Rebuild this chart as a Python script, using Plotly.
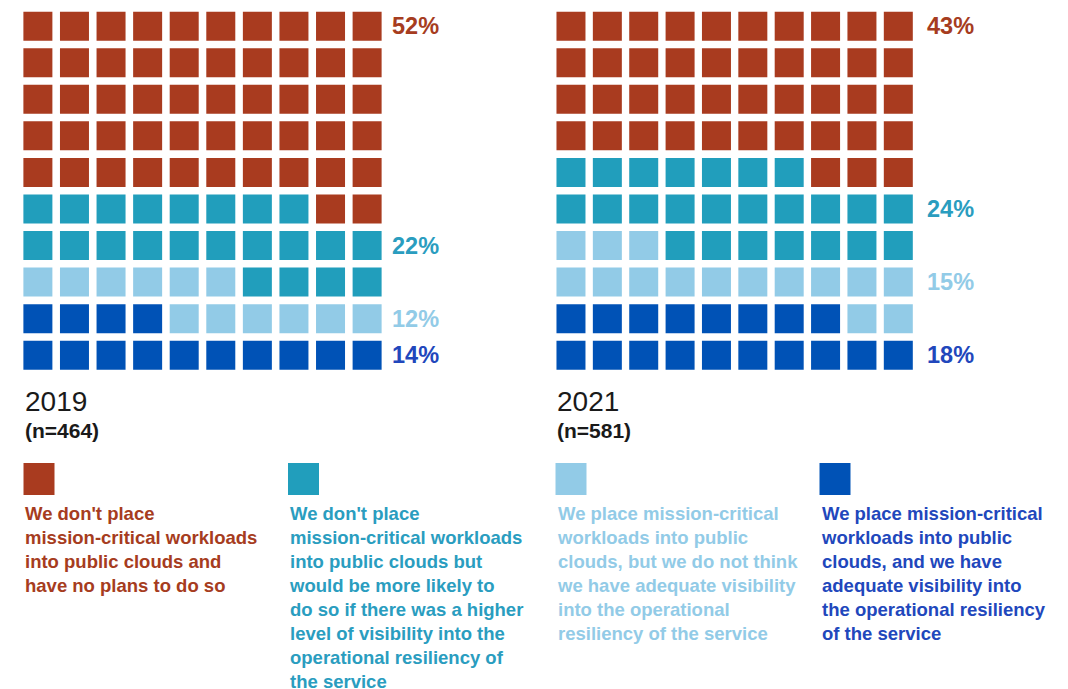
import plotly.graph_objects as go

# ---------------- data ----------------
categories = [
    "We don't place<br>mission-critical workloads<br>into public clouds and<br>have no plans to do so",
    "We don't place<br>mission-critical workloads<br>into public clouds but<br>would be more likely to<br>do so if there was a higher<br>level of visibility into the<br>operational resiliency of<br>the service",
    "We place mission-critical<br>workloads into public<br>clouds, but we do not think<br>we have adequate visibility<br>into the operational<br>resiliency of the service",
    "We place mission-critical<br>workloads into public<br>clouds, and we have<br>adequate visibility into<br>the operational resiliency<br>of the service",
]
years = ["2019", "2021"]
sample_sizes = [464, 581]
pct_2019 = [52, 22, 12, 14]
pct_2021 = [43, 24, 15, 18]

# ---------------- style ----------------
cell_colors = ["#A93B1F", "#219EBC", "#92CBE7", "#0052B6"]
text_colors = ["#A63C20", "#2A9DBF", "#92CBE7", "#2147BC"]
label_rows = {"2019": [0, 6, 8, 9], "2021": [0, 5, 7, 9]}
FONT = "Liberation Sans, Arial, sans-serif"
W, H = 1068, 689

fig = go.Figure()

panel_x_domains = [[19.6 / W, 385.4 / W], [552.8 / W, 916.5 / W]]
y_domain = [1 - 373.5 / H, 1 - 7.9 / H]

for p, (year, n, pcts) in enumerate(zip(years, sample_sizes, [pct_2019, pct_2021])):
    xa = "x" if p == 0 else "x2"
    ya = "y" if p == 0 else "y2"
    # fill the 10x10 grid from bottom-left, last category first
    k = 0
    for ci in reversed(range(len(pcts))):
        xs, ys = [], []
        for _ in range(pcts[ci]):
            xs.append(k % 10)
            ys.append(9 - k // 10)
            k += 1
        fig.add_trace(go.Scatter(
            x=xs, y=ys, mode="markers", xaxis=xa, yaxis=ya,
            marker=dict(symbol="square", size=29, color=cell_colors[ci],
                        line=dict(width=0)),
            hoverinfo="skip", showlegend=False,
        ))
    # percentage labels
    for ci, v in enumerate(pcts):
        fig.add_annotation(
            x=9.5, y=label_rows[year][ci], xref=xa, yref=ya,
            text=f"{v}%", showarrow=False, xanchor="left", yanchor="middle",
            xshift=5 if p == 0 else 8,
            font=dict(family=FONT, size=23.5, color=text_colors[ci], weight="bold"),
        )
    # year and sample size
    x_left = [24 / W, 556 / W][p]
    fig.add_annotation(
        x=x_left, y=1 - 401 / H, xref="paper", yref="paper", text=year,
        showarrow=False, xanchor="left", yanchor="middle", xshift=-1,
        font=dict(family=FONT, size=28, color="#1a1a1a"),
    )
    fig.add_annotation(
        x=x_left, y=1 - 430 / H, xref="paper", yref="paper", text=f"(n={n})",
        showarrow=False, xanchor="left", yanchor="middle", xshift=-1,
        font=dict(family=FONT, size=21, color="#1a1a1a", weight="bold"),
    )

# legend swatches + texts
legend_x = [23.5, 288, 555.5, 819.5]
for ci, cat in enumerate(categories):
    x0 = legend_x[ci]
    fig.add_shape(type="rect", xref="paper", yref="paper",
                  x0=x0 / W, x1=(x0 + 31) / W, y0=1 - 495 / H, y1=1 - 463 / H,
                  fillcolor=cell_colors[ci], line=dict(width=0))
    fig.add_annotation(
        x=x0 / W, y=1 - 501 / H, xref="paper", yref="paper", text=cat,
        showarrow=False, xanchor="left", yanchor="top", align="left", xshift=-1,
        font=dict(family=FONT, size=18.5, color=text_colors[ci], weight="bold"),
    )

axis_common = dict(visible=False, range=[-0.5, 9.5], fixedrange=True)
yaxis_common = dict(visible=False, range=[9.5, -0.5], fixedrange=True)
fig.update_layout(
    width=W, height=H,
    margin=dict(l=0, r=0, t=0, b=0),
    paper_bgcolor="white", plot_bgcolor="rgba(0,0,0,0)",
    xaxis=dict(domain=panel_x_domains[0], **axis_common),
    yaxis=dict(domain=y_domain, anchor="x", **yaxis_common),
    xaxis2=dict(domain=panel_x_domains[1], anchor="y2", **axis_common),
    yaxis2=dict(domain=y_domain, anchor="x2", **yaxis_common),
    showlegend=False,
)

fig.write_html(
    "out.html",
    config={"displayModeBar": False},
    post_script="document.body.style.margin='0';document.body.style.overflow='hidden';",
)
